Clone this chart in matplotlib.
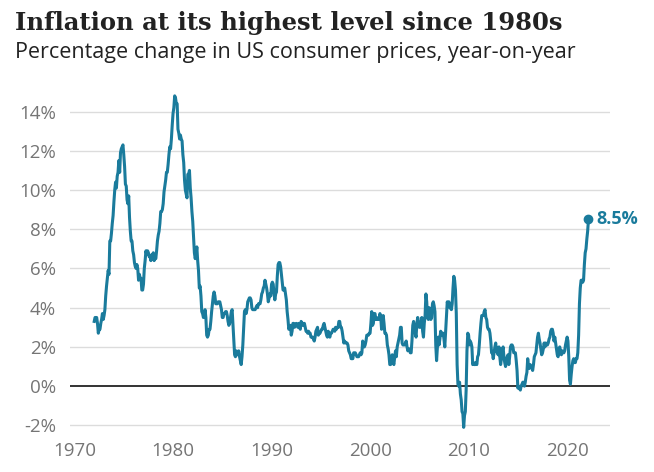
import numpy as np
import matplotlib
matplotlib.use("Agg")
import matplotlib.pyplot as plt
from matplotlib.ticker import FuncFormatter

# US CPI, % change year-on-year, monthly from Jan 1972 to Mar 2022
start_year = 1972
cpi_yoy = [
    3.3, 3.5, 3.5, 3.5, 3.2, 2.7, 2.9, 2.9, 3.2, 3.4, 3.7, 3.4,      # 1972
    3.6, 3.9, 4.6, 5.1, 5.5, 5.9, 5.7, 7.4, 7.4, 7.8, 8.3, 8.7,      # 1973
    9.4, 10.0, 10.4, 10.1, 10.7, 10.9, 11.5, 10.9, 11.9, 12.1, 12.2, 12.3,  # 1974
    11.8, 11.2, 10.3, 10.2, 9.5, 9.3, 9.7, 8.6, 7.9, 7.4, 7.4, 6.9,  # 1975
    6.7, 6.3, 6.1, 6.0, 6.2, 6.0, 5.4, 5.7, 5.5, 5.5, 4.9, 4.9,      # 1976
    5.2, 6.0, 6.4, 6.9, 6.7, 6.9, 6.8, 6.6, 6.6, 6.4, 6.7, 6.7,      # 1977
    6.8, 6.4, 6.6, 6.5, 6.9, 7.4, 7.7, 7.9, 8.3, 8.9, 8.9, 9.0,      # 1978
    9.3, 9.9, 10.2, 10.5, 10.9, 10.9, 11.3, 11.8, 12.2, 12.1, 12.6, 13.3,  # 1979
    13.9, 14.2, 14.8, 14.7, 14.4, 14.4, 13.1, 12.9, 12.6, 12.8, 12.6, 12.5,  # 1980
    11.8, 11.4, 10.5, 10.0, 9.8, 9.6, 10.8, 10.8, 11.0, 10.1, 9.6, 8.9,  # 1981
    8.4, 7.6, 6.8, 6.5, 6.7, 7.1, 6.4, 5.9, 5.0, 5.1, 4.6, 3.8,      # 1982
    3.7, 3.5, 3.6, 3.9, 3.5, 2.6, 2.5, 2.6, 2.9, 2.9, 3.3, 3.8,      # 1983
    4.2, 4.6, 4.8, 4.6, 4.2, 4.2, 4.2, 4.3, 4.3, 4.3, 4.1, 3.9,      # 1984
    3.5, 3.5, 3.7, 3.7, 3.8, 3.8, 3.6, 3.3, 3.1, 3.2, 3.5, 3.8,      # 1985
    3.9, 3.1, 2.2, 1.6, 1.5, 1.8, 1.6, 1.6, 1.8, 1.5, 1.3, 1.1,      # 1986
    1.5, 2.1, 3.0, 3.8, 3.9, 3.7, 3.9, 4.3, 4.4, 4.5, 4.5, 4.4,      # 1987
    4.0, 3.9, 3.9, 3.9, 3.9, 4.0, 4.1, 4.0, 4.2, 4.2, 4.2, 4.4,      # 1988
    4.7, 4.8, 5.0, 5.1, 5.4, 5.2, 5.0, 4.7, 4.3, 4.5, 4.7, 4.6,      # 1989
    5.2, 5.3, 5.2, 4.7, 4.4, 4.7, 4.8, 5.6, 6.2, 6.3, 6.3, 6.1,      # 1990
    5.7, 5.3, 4.9, 4.9, 5.0, 4.7, 4.4, 3.8, 3.4, 2.9, 3.0, 3.1,      # 1991
    2.6, 2.8, 3.2, 3.2, 3.0, 3.1, 3.2, 3.1, 3.0, 3.2, 3.0, 2.9,      # 1992
    3.3, 3.2, 3.1, 3.2, 3.2, 3.0, 2.8, 2.8, 2.7, 2.8, 2.7, 2.7,      # 1993
    2.5, 2.5, 2.5, 2.4, 2.3, 2.5, 2.8, 2.9, 3.0, 2.6, 2.7, 2.7,      # 1994
    2.8, 2.9, 2.9, 3.1, 3.2, 3.0, 2.8, 2.6, 2.5, 2.8, 2.6, 2.5,      # 1995
    2.7, 2.7, 2.8, 2.9, 2.9, 2.8, 3.0, 2.9, 3.0, 3.0, 3.3, 3.3,      # 1996
    3.0, 3.0, 2.8, 2.5, 2.2, 2.3, 2.2, 2.2, 2.2, 2.1, 1.8, 1.7,      # 1997
    1.6, 1.4, 1.4, 1.4, 1.7, 1.7, 1.7, 1.6, 1.5, 1.5, 1.5, 1.6,      # 1998
    1.7, 1.6, 1.7, 2.3, 2.1, 2.0, 2.1, 2.3, 2.6, 2.6, 2.6, 2.7,      # 1999
    2.7, 3.2, 3.8, 3.1, 3.2, 3.7, 3.7, 3.4, 3.5, 3.4, 3.4, 3.4,      # 2000
    3.7, 3.5, 2.9, 3.3, 3.6, 3.2, 2.7, 2.7, 2.6, 2.1, 1.9, 1.6,      # 2001
    1.1, 1.1, 1.5, 1.6, 1.2, 1.1, 1.5, 1.8, 1.5, 2.0, 2.2, 2.4,      # 2002
    2.6, 3.0, 3.0, 2.2, 2.1, 2.1, 2.1, 2.2, 2.3, 2.0, 1.8, 1.9,      # 2003
    1.9, 1.7, 1.7, 2.3, 3.1, 3.3, 3.0, 2.7, 2.5, 3.2, 3.5, 3.3,      # 2004
    3.0, 3.0, 3.1, 3.5, 2.8, 2.5, 3.2, 3.6, 4.7, 4.3, 3.5, 3.4,      # 2005
    4.0, 3.6, 3.4, 3.5, 4.2, 4.3, 4.1, 3.8, 2.1, 1.3, 2.0, 2.5,      # 2006
    2.1, 2.4, 2.8, 2.6, 2.7, 2.7, 2.4, 2.0, 2.8, 3.5, 4.3, 4.1,      # 2007
    4.3, 4.0, 4.0, 3.9, 4.2, 5.0, 5.6, 5.4, 4.9, 3.7, 1.1, 0.1,      # 2008
    0.0, 0.2, -0.4, -0.7, -1.3, -1.4, -2.1, -1.5, -1.3, -0.2, 1.8, 2.7,  # 2009
    2.6, 2.1, 2.3, 2.2, 2.0, 1.1, 1.2, 1.1, 1.1, 1.2, 1.1, 1.5,      # 2010
    1.6, 2.1, 2.7, 3.2, 3.6, 3.6, 3.6, 3.8, 3.9, 3.5, 3.4, 3.0,      # 2011
    2.9, 2.9, 2.7, 2.3, 1.7, 1.7, 1.4, 1.7, 2.0, 2.2, 1.8, 1.7,      # 2012
    1.6, 2.0, 1.5, 1.1, 1.4, 1.8, 2.0, 1.5, 1.2, 1.0, 1.2, 1.5,      # 2013
    1.6, 1.1, 1.5, 2.0, 2.1, 2.1, 2.0, 1.7, 1.7, 1.7, 1.3, 0.8,      # 2014
    -0.1, 0.0, -0.1, -0.2, 0.0, 0.1, 0.2, 0.2, 0.0, 0.2, 0.5, 0.7,   # 2015
    1.4, 1.0, 0.9, 1.1, 1.0, 1.0, 0.8, 1.1, 1.5, 1.6, 1.7, 2.1,      # 2016
    2.5, 2.7, 2.4, 2.2, 1.9, 1.6, 1.7, 1.9, 2.2, 2.0, 2.2, 2.1,      # 2017
    2.1, 2.2, 2.4, 2.5, 2.8, 2.9, 2.9, 2.7, 2.3, 2.5, 2.2, 1.9,      # 2018
    1.6, 1.5, 1.9, 2.0, 1.8, 1.6, 1.8, 1.7, 1.7, 1.8, 2.1, 2.3,      # 2019
    2.5, 2.3, 1.5, 0.3, 0.1, 0.6, 1.0, 1.3, 1.4, 1.2, 1.2, 1.4,      # 2020
    1.4, 1.7, 2.6, 4.2, 5.0, 5.4, 5.4, 5.3, 5.4, 6.2, 6.8, 7.0,      # 2021
    7.5, 7.9, 8.5,                                                    # 2022
]
y_ticks = [-2, 0, 2, 4, 6, 8, 10, 12, 14]
x_ticks = [1970, 1980, 1990, 2000, 2010, 2020]
title = "Inflation at its highest level since 1980s"
subtitle = "Percentage change in US consumer prices, year-on-year"

line_col = "#1a7b9c"
grey = "#757575"

dates = start_year + np.arange(len(cpi_yoy)) / 12.0

fig = plt.figure(figsize=(6.54, 4.72), dpi=100)
ax = fig.add_axes([0.107, 0.078, 0.826, 0.748])

for t in y_ticks:
    if t == 0:
        ax.axhline(0, color="#333333", lw=1.4, zorder=2)
    else:
        ax.axhline(t, color="#dcdcdc", lw=1.0, zorder=1)

ax.plot(dates, cpi_yoy, color=line_col, lw=2.2, zorder=3,
        solid_joinstyle="round")
ax.plot(dates[-1], cpi_yoy[-1], "o", color=line_col, ms=6, zorder=4)
ax.annotate(f"{cpi_yoy[-1]}%", (dates[-1], cpi_yoy[-1]), xytext=(6, 0),
            textcoords="offset points", va="center", ha="left",
            color=line_col, fontsize=13, fontweight="bold",
            family="Open Sans")

ax.set_xlim(1969.54, 2024.37)
ax.set_ylim(-2.5, 15.5)
ax.set_yticks(y_ticks)
ax.set_xticks(x_ticks)
ax.yaxis.set_major_formatter(FuncFormatter(lambda v, p: f"{v:.0f}%"))
for s in ax.spines.values():
    s.set_visible(False)
ax.tick_params(length=0, labelsize=13.5, labelcolor=grey, pad=10)
ax.tick_params(axis="x", pad=5)
for lab in ax.get_xticklabels() + ax.get_yticklabels():
    lab.set_family("Open Sans")

fig.text(0.023, 0.952, title, fontsize=17.5, family="DejaVu Serif",
         fontweight="bold", color="#222222", va="center", ha="left")
fig.text(0.023, 0.888, subtitle, fontsize=15.5, family="Open Sans",
         color="#222222", va="center", ha="left")

fig.savefig("out.png", dpi=100)
